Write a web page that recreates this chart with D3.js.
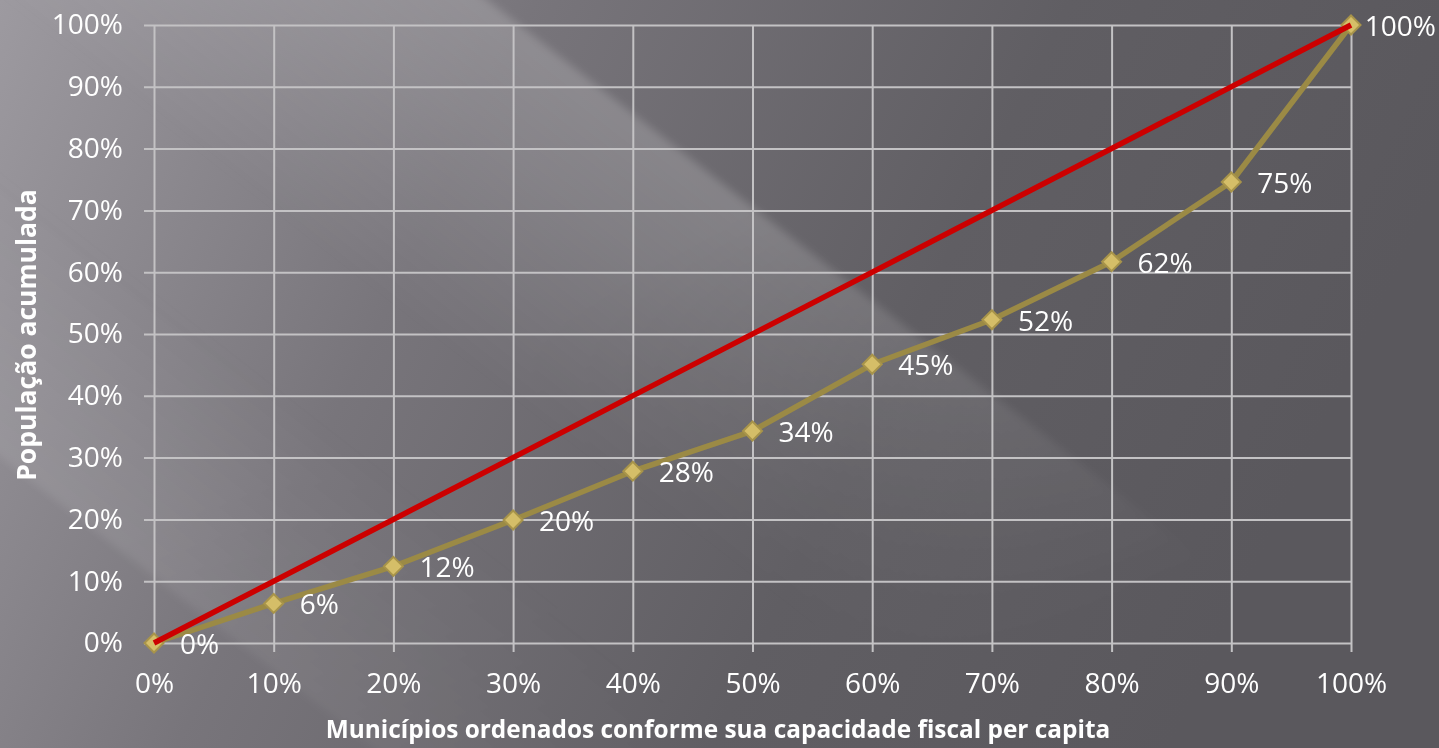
<!DOCTYPE html>
<html lang="pt">
<head>
<meta charset="utf-8">
<title>Curva de concentração da população</title>
<script src="https://cdn.jsdelivr.net/npm/d3@7"></script>
<style>
  html, body { margin: 0; padding: 0; background: #6e6b71; }
  svg { display: block; }
  text { font-family: "Open Sans", "DejaVu Sans", sans-serif; fill: #ffffff; }
</style>
</head>
<body>
<svg id="chart" width="1439" height="748"></svg>
<script>
// Cumulative share of municipalities (x) ordered by fiscal capacity per capita
const cumMunicipios = [0, 0.1, 0.2, 0.3, 0.4, 0.5, 0.6, 0.7, 0.8, 0.9, 1.0];
// Cumulative share of population (y)
const cumPopulacao = [0, 0.064, 0.124, 0.199, 0.278, 0.343, 0.451, 0.523, 0.617, 0.746, 1.0];
// Line of perfect equality
const igualdadeX = [0, 1];
const igualdadeY = [0, 1];
// Axis ticks
const xTicks = [0, 0.1, 0.2, 0.3, 0.4, 0.5, 0.6, 0.7, 0.8, 0.9, 1.0];
const yTicks = [0, 0.1, 0.2, 0.3, 0.4, 0.5, 0.6, 0.7, 0.8, 0.9, 1.0];
const xTitle = "Municípios ordenados conforme sua capacidade fiscal per capita";
const yTitle = "População acumulada";

const W = 1439, H = 748;
const plot = { left: 154, right: 1351, top: 25, bottom: 643 };
const pct = d3.format(".0%");

const svg = d3.select("#chart");
const defs = svg.append("defs");

// ---- background: dark grey gradient with soft diagonal light streaks ----
const bg = defs.append("linearGradient").attr("id", "bgGrad")
  .attr("x1", 0).attr("y1", 0).attr("x2", 1).attr("y2", 0.25);
bg.append("stop").attr("offset", 0).attr("stop-color", "#9d9aa0");
bg.append("stop").attr("offset", 0.35).attr("stop-color", "#78757b");
bg.append("stop").attr("offset", 0.7).attr("stop-color", "#605e63");
bg.append("stop").attr("offset", 1).attr("stop-color", "#5a585d");

// streak gradients: brightest at the upper-right edge, fading towards lower-left
function streak(id, op) {
  const g = defs.append("linearGradient").attr("id", id)
    .attr("x1", 0).attr("y1", 0).attr("x2", 0).attr("y2", 1);
  g.append("stop").attr("offset", 0).attr("stop-color", "#fff").attr("stop-opacity", op);
  g.append("stop").attr("offset", 0.35).attr("stop-color", "#fff").attr("stop-opacity", op * 0.7);
  g.append("stop").attr("offset", 1).attr("stop-color", "#fff").attr("stop-opacity", 0);
}
streak("streakA", 0.18);
streak("streakB", 0.09);

// streaks fade out towards the lower-right corner
const fade = defs.append("linearGradient").attr("id", "fadeGrad")
  .attr("x1", 0).attr("y1", 0).attr("x2", 1).attr("y2", 1);
fade.append("stop").attr("offset", 0).attr("stop-color", "#fff");
fade.append("stop").attr("offset", 0.4).attr("stop-color", "#fff");
fade.append("stop").attr("offset", 0.8).attr("stop-color", "#000");
defs.append("mask").attr("id", "fadeMask")
  .append("rect").attr("width", W).attr("height", H).attr("fill", "url(#fadeGrad)");

defs.append("filter").attr("id", "soft").attr("x", "-20%").attr("y", "-20%")
  .attr("width", "140%").attr("height", "140%")
  .append("feGaussianBlur").attr("stdDeviation", 4);

svg.append("rect").attr("width", W).attr("height", H).attr("fill", "url(#bgGrad)");
const streaks = svg.append("g").attr("mask", "url(#fadeMask)")
  .append("g").attr("transform", "rotate(38)").attr("filter", "url(#soft)");
streaks.append("rect").attr("x", -800).attr("width", 3200)
  .attr("y", -300).attr("height", 300).attr("fill", "url(#streakA)");
streaks.append("rect").attr("x", -800).attr("width", 3200)
  .attr("y", 130).attr("height", 230).attr("fill", "url(#streakB)")
  .attr("transform", "scale(1,-1) translate(0,-490)");

// ---- scales ----
const x = d3.scaleLinear().domain([0, 1]).range([plot.left, plot.right]);
const y = d3.scaleLinear().domain([0, 1]).range([plot.bottom, plot.top]);

const gridColor = "#c3c2c4";
const tickFont = 28;

// horizontal gridlines + y labels
const yAxis = d3.axisLeft(y).tickValues(yTicks).tickFormat(pct)
  .tickSizeInner(-(plot.right - (plot.left - 10))).tickSizeOuter(0).tickPadding(21);
const gy = svg.append("g").attr("transform", `translate(${plot.left - 10},0)`).call(yAxis);
gy.select(".domain").remove();
gy.selectAll(".tick line").attr("stroke", gridColor).attr("stroke-width", 2);
gy.selectAll(".tick text").attr("font-size", tickFont).attr("fill", "#fff")
  .attr("font-family", null);

// vertical gridlines + x labels
const xAxis = d3.axisBottom(x).tickValues(xTicks).tickFormat(pct)
  .tickSizeInner(-((plot.bottom + 9) - plot.top)).tickSizeOuter(0).tickPadding(21);
const gx = svg.append("g").attr("transform", `translate(0,${plot.bottom + 9})`).call(xAxis);
gx.select(".domain").remove();
gx.selectAll(".tick line").attr("stroke", gridColor).attr("stroke-width", 2);
gx.selectAll(".tick text").attr("font-size", tickFont).attr("fill", "#fff")
  .attr("font-family", null);

// ---- population curve ----
const pts = cumMunicipios.map((m, i) => ({ x: m, y: cumPopulacao[i] }));
const line = d3.line().x(d => x(d.x)).y(d => y(d.y));

svg.append("path").datum(pts).attr("d", line)
  .attr("fill", "none").attr("stroke", "#9b8a45").attr("stroke-width", 5.5)
  .attr("stroke-linejoin", "round");

const r = 9.5;
svg.append("g").selectAll("path").data(pts).join("path")
  .attr("transform", d => `translate(${x(d.x)},${y(d.y)})`)
  .attr("d", `M0,${-r}L${r},0L0,${r}L${-r},0Z`)
  .attr("fill", "#d5be68").attr("stroke", "#a8944a").attr("stroke-width", 2);

// value labels to the right of each point, kept inside the canvas
svg.append("g").selectAll("text").data(pts).join("text")
  .attr("y", d => y(d.y) + 11)
  .attr("font-size", tickFont)
  .text(d => pct(d.y))
  .attr("x", function (d) {
    const len = this.getComputedTextLength();
    return Math.min(x(d.x) + 26, W - len - 3);
  });

// ---- equality line ----
const eq = igualdadeX.map((v, i) => ({ x: v, y: igualdadeY[i] }));
svg.append("path").datum(eq).attr("d", line)
  .attr("fill", "none").attr("stroke", "#cc0000").attr("stroke-width", 5.5);

// ---- axis titles ----
svg.append("text").attr("x", 718).attr("y", 738)
  .attr("text-anchor", "middle").attr("font-size", 24.4).attr("font-weight", "bold")
  .text(xTitle);
svg.append("text").attr("transform", `translate(36,335) rotate(-90)`)
  .attr("text-anchor", "middle").attr("font-size", 26.5).attr("font-weight", "bold")
  .text(yTitle);
</script>
</body>
</html>
